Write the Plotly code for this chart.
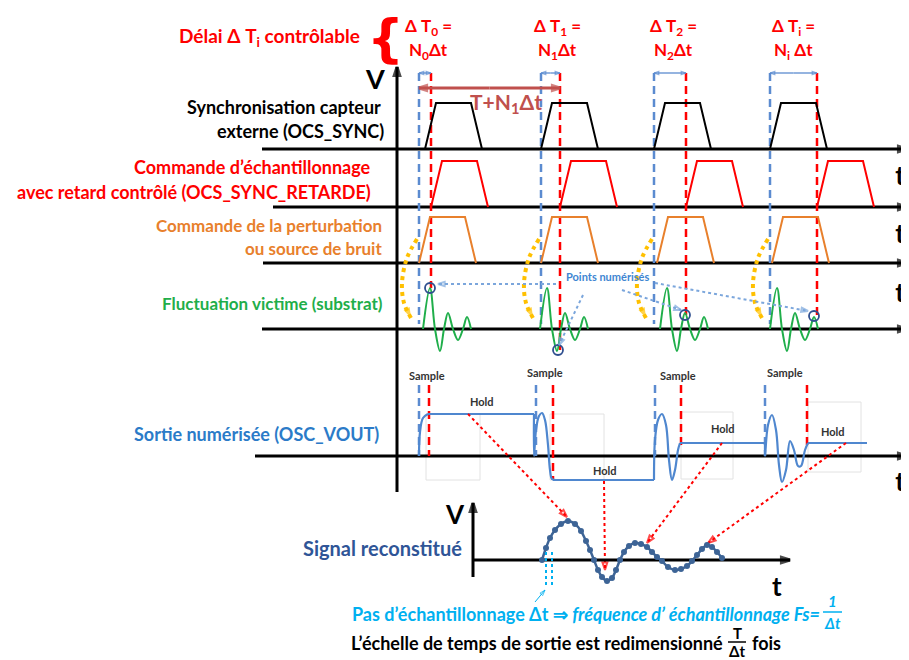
import plotly.graph_objects as go

# the drawing is laid out in picture pixels: x to the right, y downward
W, H = 909, 660
PAGE = 8   # default body margin of the html page

# channel baselines and their left start
row_y = [149, 207, 263, 329, 456]
row_x0 = [262, 273, 263, 262, 255]
t_lbl_y = [178, 236, 295, 484]

# the four acquisitions: sync edge (blue) and delayed sampling instant (red)
sync_ref = [419, 541, 654, 770]
samp_ref = [431, 560, 686, 817]
delay_top = ['Δ T<sub>0</sub> =', 'Δ T<sub>1</sub> =', 'Δ T<sub>2</sub> =', 'Δ T<sub>i</sub> =']
delay_bot = ['N<sub>0</sub>Δt', 'N<sub>1</sub>Δt', 'N<sub>2</sub>Δt', 'N<sub>i</sub> Δt']
delay_lbl_x = [428, 557, 673, 793]

# trapezoid pulses
sync_start = [425, 541, 654, 770]
retard_start = [431, 560, 686, 817]
perturb_start = [419, 541, 657, 772]
pulse_dx = [0, 11, 46, 57]
pulse_up = [0, 1, 1, 0]
pulse_h = 46

# victim fluctuation (damped ringing) after each perturbation
fluct_start = [423, 540, 660, 770]
fluct_dx = [0, 7, 12, 17, 21, 25, 30, 35, 40, 44, 48]
fluct_dy = [0, -41, 0, 22, 0, -16, 0, 11, 0, -12, 0]

pts_x = [430, 558, 685, 814]
pts_y = [288, 350, 315, 316]

# sample & hold output
hold_x0 = [428, 553, 680, 808]
hold_x1 = [534, 654, 765, 867]
hold_y = [414, 480, 443, 443]
samp_blue = [419, 536, 655, 765]
samp_red = [429, 553, 681, 807]
samp_red_end = [456, 480, 445, 450]
ring_x = [
    [419, 420, 423, 428],
    [534, 534, 536, 539, 542, 545, 548, 550, 552, 556],
    [654, 655, 658, 662, 666, 669, 672, 675, 678, 680],
    [765, 765, 768, 772, 776, 779, 782, 786, 790, 794, 798, 801, 805, 808],
]
ring_y = [
    [456, 432, 418, 414],
    [414, 456, 430, 416, 413, 420, 445, 470, 479, 480],
    [480, 440, 420, 414, 425, 460, 480, 470, 450, 443],
    [443, 456, 425, 415, 430, 465, 482, 470, 441, 450, 466, 466, 450, 443],
]
hold_box = [(426, 414, 480, 480), (550, 414, 604, 480), (681, 412, 733, 479), (808, 402, 861, 472)]
sample_lbl = [(427, 375), (545, 372), (678, 375), (785, 372)]
hold_lbl = [(482, 401), (605, 470), (723, 428), (833, 431)]

# reconstructed signal
rec_x = [542, 546, 550, 555, 561, 568, 575, 581, 586, 590, 594, 598, 602, 607, 612, 616,
         620, 624, 629, 635, 641, 647, 652, 657, 662, 668, 675, 681, 687, 692, 697, 702,
         707, 712, 717, 722]
rec_y = [560, 548, 538, 530, 524, 521, 524, 531, 541, 550, 560, 570, 577, 581, 578, 570,
         560, 552, 546, 543, 544, 547, 552, 557, 561, 567, 570, 569, 566, 561, 555, 549,
         545, 547, 552, 558]

# red dotted arrows from the holds to the rebuilt curve
link_from = [(468, 414), (604, 481), (722, 443), (846, 443)]
link_to = [(567, 517), (605, 570), (647, 543), (708, 543)]

# "Points numérisés" arrows
pn_from = [(556, 284), (583, 295), (622, 290), (655, 283)]
pn_to = [(438, 284), (559, 345), (681, 310), (808, 311)]

BLACK = '#000000'
RED = '#ff0000'
ORANGE = '#e8802c'
GREEN = '#1fae4a'
BLUE_D = '#5b8bd0'
OUT = '#4f87cf'
NAVY = '#2f5597'
CYAN = '#00b0f0'
GOLD = '#ffc000'
FONT = 'Lato'

fig = go.Figure()


def line(xs, ys, color, width=2, dash=None, shape='linear', head=None, head_size=10, fill_head=False):
    mk = dict(size=0)
    if head:
        n = len(xs)
        mk = dict(symbol='arrow' if fill_head else 'arrow-open', angleref='previous',
                  size=[0] * (n - 1) + [head_size], color=color,
                  line=dict(color=color, width=width if not fill_head else 0))
    fig.add_trace(go.Scatter(x=xs, y=ys, mode='lines+markers' if head else 'lines',
                             line=dict(color=color, width=width, dash=dash, shape=shape),
                             marker=mk, showlegend=False, hoverinfo='skip'))


def text(x, y, s, size=16, color=BLACK, anchor='center', italic=False):
    fig.add_annotation(x=x, y=y, text=s, showarrow=False, xanchor=anchor, yanchor='middle',
                       font=dict(family=FONT, size=size, color=color,
                                 style='italic' if italic else 'normal', weight='bold'))


# channel axes
for y, x0 in zip(row_y, row_x0):
    line([x0, 907], [y, y], BLACK, width=3, head=True, head_size=9)
# the "t" of each channel sits half outside the picture, as in the slide
fig.add_trace(go.Scatter(x=[900] * len(t_lbl_y), y=t_lbl_y, mode='text', text=['<b>t</b>'] * len(t_lbl_y),
                         textposition='middle center', cliponaxis=False, showlegend=False,
                         hoverinfo='skip', textfont=dict(family=FONT, size=26, color=BLACK)))

# main V axis
line([397, 397], [492, 67], BLACK, width=3, head=True, head_size=9)
text(375, 78, 'V', size=27)

# dashed reference lines
for xb, xr, yp in zip(sync_ref, samp_ref, pts_y):
    line([xb, xb], [73, 324], BLUE_D, width=2.5, dash='8px,5px')
    line([xr, xr], [73, yp], RED, width=2.5, dash='8px,5px')
    xm = (xb + xr) / 2
    line([xm, xr], [73, 73], BLUE_D, width=1.3, head=True, head_size=5)
    line([xm, xb], [73, 73], BLUE_D, width=1.3, head=True, head_size=5)

# delay labels
for x, a, b in zip(delay_lbl_x, delay_top, delay_bot):
    text(x, 27, a, size=17, color=RED)
    text(x, 51, b, size=17, color=RED)
text(362, 37, 'Délai Δ T<sub>i</sub> contrôlable', size=19, color=RED, anchor='right')
fig.add_annotation(x=385, y=38, text='<b>{</b>', showarrow=False, yanchor='middle',
                   font=dict(family='DejaVu Sans', size=52, color=RED))

# T + N1 dt
xm = (sync_ref[0] + samp_ref[1]) / 2
line([xm, samp_ref[1]], [88, 88], '#c0504d', width=3, head=True, head_size=8)
line([xm, sync_ref[0]], [88, 88], '#c0504d', width=3, head=True, head_size=8)
text(506, 103, 'T+N<sub>1</sub>Δt', size=21, color='#c0504d')


def trapezes(starts, base, color):
    for s in starts:
        line([s + d for d in pulse_dx], [base - pulse_h * u for u in pulse_up], color, width=2)


trapezes(sync_start, row_y[0], BLACK)
trapezes(retard_start, row_y[1], RED)
trapezes(perturb_start, row_y[2], ORANGE)

# victim fluctuation
for s in fluct_start:
    line([s + d for d in fluct_dx], [row_y[3] + d for d in fluct_dy], GREEN, width=2,
         shape='spline')

# coupling arrows (gold dotted)
for xb in sync_ref:
    line([xb - 2, xb - 12, xb - 17, xb - 15, xb - 8], [239, 258, 283, 303, 318], GOLD,
         width=4, dash='dot', shape='spline', head=True, head_size=11, fill_head=True)

fig.add_trace(go.Scatter(x=pts_x, y=pts_y, mode='markers', showlegend=False, hoverinfo='skip',
                         marker=dict(symbol='circle-open', size=10, color='#2f4f8f',
                                     line=dict(width=1.8, color='#2f4f8f'))))
for (x0, y0), (x1, y1) in zip(pn_from, pn_to):
    line([x0, x1], [y0, y1], '#7ba6dc', width=2, dash='dot', head=True, head_size=7)
text(607, 276, 'Points numérisés', size=11, color='#3f86d2')

# output: faint boxes, sample markers, hold levels, ringing
for x0, y0, x1, y1 in hold_box:
    fig.add_shape(type='rect', x0=x0, y0=y0, x1=x1, y1=y1,
                  line=dict(color='#e2e2e2', width=1), layer='below')
for xb, xr, ye in zip(samp_blue, samp_red, samp_red_end):
    line([xb, xb], [385, 456], BLUE_D, width=2.5, dash='8px,5px')
    line([xr, xr], [385, ye], RED, width=2.5, dash='8px,5px')
for x0, x1, y in zip(hold_x0, hold_x1, hold_y):
    line([x0, x1], [y, y], OUT, width=2.2)
for xs, ys in zip(ring_x, ring_y):
    line(xs, ys, OUT, width=2.2, shape='spline')
for x, y in sample_lbl:
    text(x, y, 'Sample', size=11, color='#333333')
for x, y in hold_lbl:
    text(x, y, 'Hold', size=11, color='#333333')

# red dotted links to the rebuilt signal
for (x0, y0), (x1, y1) in zip(link_from, link_to):
    line([x0, x1], [y0, y1], RED, width=2, dash='dot', head=True, head_size=8)

# reconstructed signal axes and curve
line([473, 473], [577, 503], BLACK, width=3, head=True, head_size=9)
line([473, 790], [560, 560], BLACK, width=3, head=True, head_size=9)
text(455, 514, 'V', size=26)
text(777, 586, 't', size=26)
fig.add_trace(go.Scatter(x=rec_x, y=rec_y, mode='lines+markers', showlegend=False,
                         hoverinfo='skip', line=dict(color='#3d6496', width=2.5, shape='spline'),
                         marker=dict(size=6, color='#3d6496')))
for x in [546, 552]:
    line([x, x], [552, 586], CYAN, width=2, dash='dot')
line([535, 545], [602, 590], CYAN, width=1, head=True, head_size=6)

# channel names
text(383, 107, 'Synchronisation capteur', size=18, anchor='right')
text(386, 131, 'externe (OCS_SYNC)', size=18, anchor='right')
text(373, 167, 'Commande d’échantillonnage', size=18, color=RED, anchor='right')
text(373, 192, 'avec retard contrôlé (OCS_SYNC_RETARDE)', size=18, color=RED, anchor='right')
text(384, 225, 'Commande de la perturbation', size=17, color=ORANGE, anchor='right')
text(384, 248, 'ou source de bruit', size=17, color=ORANGE, anchor='right')
text(385, 303, 'Fluctuation victime (substrat)', size=17, color=GREEN, anchor='right')
text(381, 434, 'Sortie numérisée (OSC_VOUT)', size=18, color='#2b7bc8', anchor='right')
text(382, 548, 'Signal reconstitué', size=20, color=NAVY)

# bottom notes
text(822, 614, 'Pas d’échantillonnage Δt ⇒ <i>fréquence d’ échantillonnage Fs=</i>', size=18,
     color=CYAN, anchor='right')
text(832, 601, '1', size=15, color=CYAN, italic=True)
text(832, 623, 'Δt', size=15, color=CYAN, italic=True)
fig.add_shape(type='line', x0=823, x1=842, y0=612, y1=612, line=dict(color=CYAN, width=1.5))
text(725, 643, 'L’échelle de temps de sortie est redimensionné', size=18, anchor='right')
text(737, 633, 'T', size=15)
text(737, 651, 'Δt', size=15)
fig.add_shape(type='line', x0=728, x1=746, y0=642, y1=642, line=dict(color=BLACK, width=1.5))
text(750, 643, 'fois', size=18, anchor='left')

# the page body adds an 8px margin: map the visible area back onto the picture
fig.update_xaxes(range=[PAGE, W], visible=False, fixedrange=True)
fig.update_yaxes(range=[H, PAGE], visible=False, fixedrange=True)
fig.update_layout(width=W - PAGE, height=H - PAGE, margin=dict(l=0, r=0, t=0, b=0),
                  plot_bgcolor='white', paper_bgcolor='white')

fig.write_html('out.html')
